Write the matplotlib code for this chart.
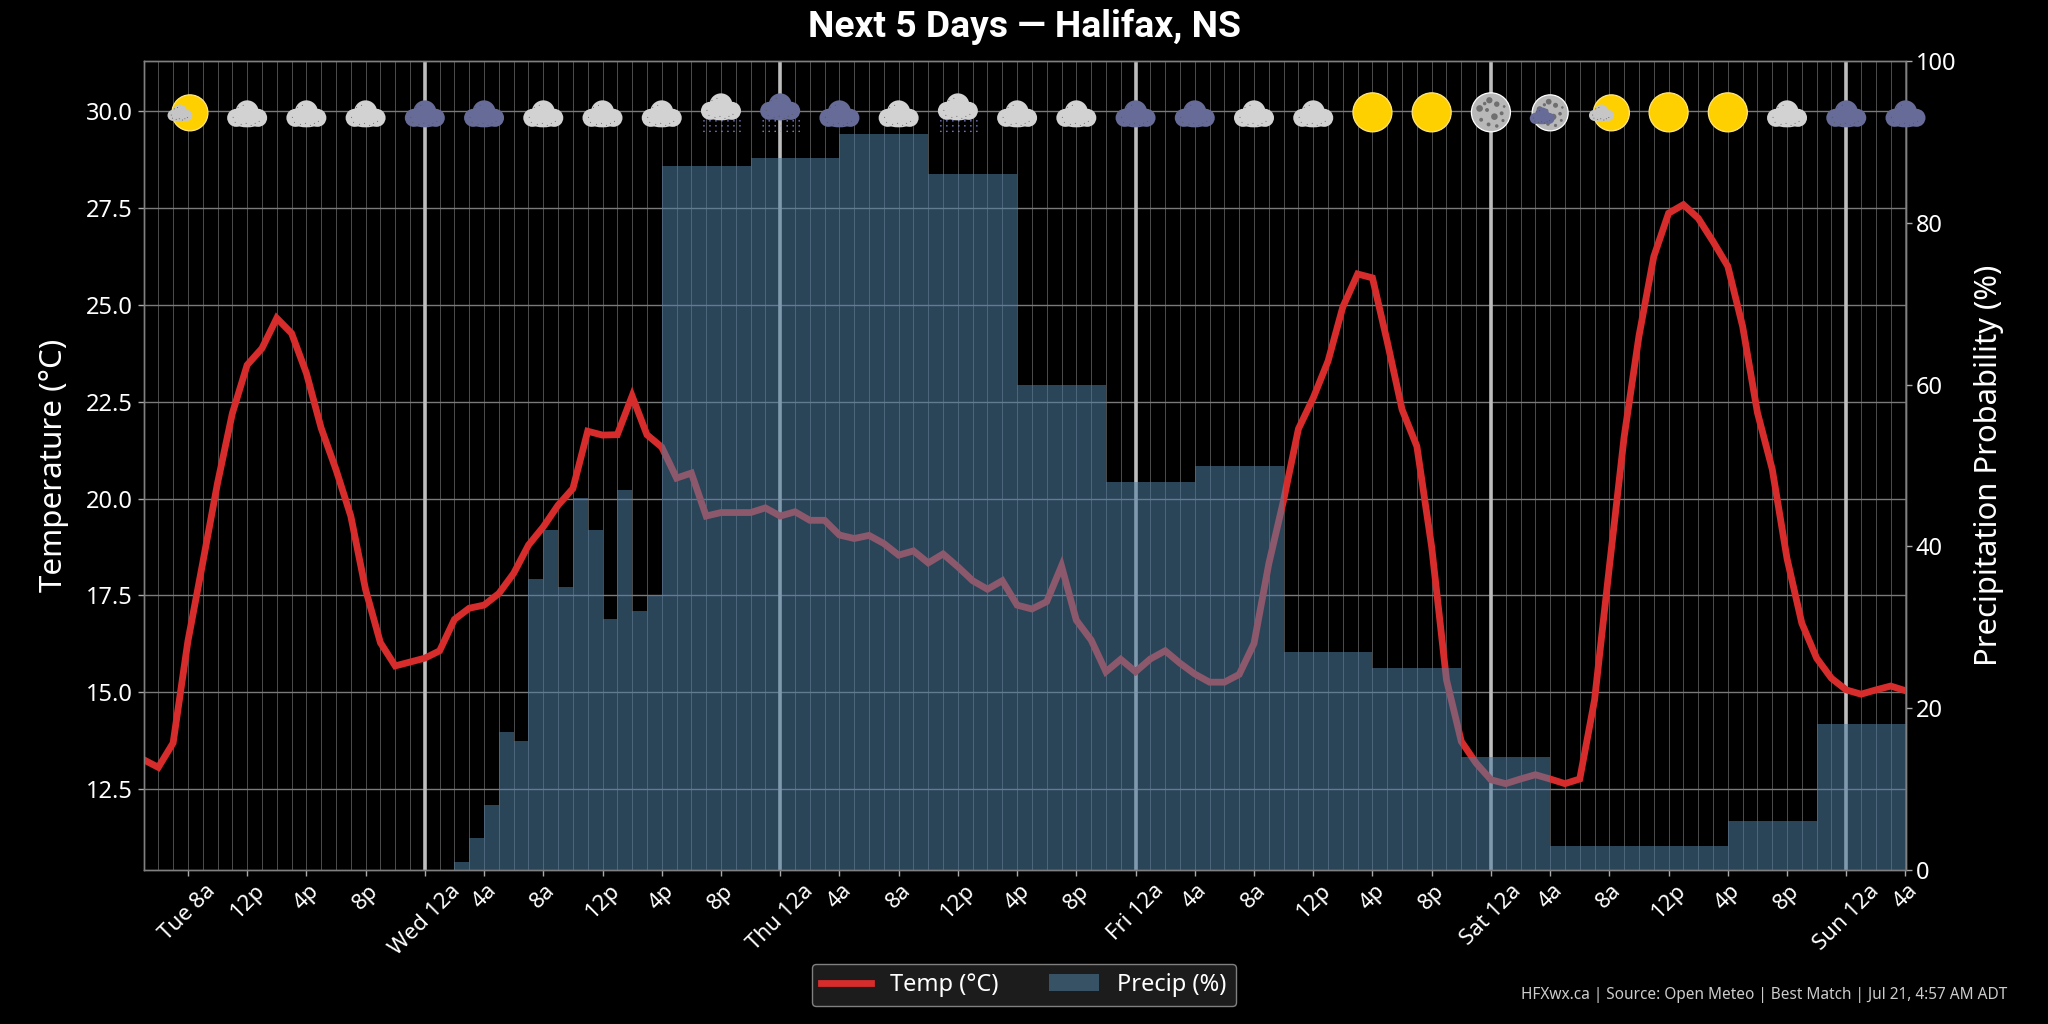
import matplotlib
matplotlib.use('Agg')
import matplotlib.pyplot as plt
from matplotlib.patches import Circle, Ellipse
from matplotlib.offsetbox import AnnotationBbox, DrawingArea

plt.rcParams['font.family'] = ['Noto Sans', 'DejaVu Sans']

# hourly temperature from Tue 5a to Sun 4a
temps = [13.26, 13.06, 13.69, 16.32, 18.34, 20.4, 22.2, 23.45, 23.88, 24.66,
         24.27, 23.24, 21.82, 20.75, 19.55, 17.65, 16.28, 15.68, 15.78, 15.88,
         16.07, 16.88, 17.17, 17.25, 17.55, 18.07, 18.8, 19.27, 19.83, 20.26,
         21.74, 21.64, 21.65, 22.65, 21.65, 21.33, 20.53, 20.66, 19.55, 19.64,
         19.64, 19.64, 19.76, 19.55, 19.66, 19.44, 19.44, 19.06, 18.97, 19.05,
         18.84, 18.54, 18.65, 18.34, 18.57, 18.24, 17.88, 17.66, 17.88, 17.25,
         17.15, 17.34, 18.26, 16.86, 16.35, 15.53, 15.85, 15.53, 15.86, 16.07,
         15.75, 15.47, 15.26, 15.26, 15.46, 16.26, 18.32, 19.96, 21.8, 22.6,
         23.55, 24.95, 25.8, 25.7, 24.05, 22.3, 21.35, 18.75, 15.32, 13.73,
         13.17, 12.74, 12.64, 12.76, 12.87, 12.76, 12.64, 12.76, 14.8, 18.24,
         21.6, 24.2, 26.25, 27.37, 27.59, 27.24, 26.64, 26.0, 24.45, 22.22,
         20.76, 18.45, 16.78, 15.88, 15.36, 15.06, 14.95, 15.06, 15.16, 15.04]

# hourly precip probability, each value fills the hour after it
precip = [0, 0, 0, 0, 0, 0, 0, 0, 0, 0, 0, 0, 0, 0, 0, 0, 0, 0, 0, 0, 0,
          1, 4, 8, 17, 16, 36, 42, 35, 46, 42, 31, 47, 32, 34,
          87, 87, 87, 87, 87, 87, 88, 88, 88, 88, 88, 88,
          91, 91, 91, 91, 91, 91, 86, 86, 86, 86, 86, 86,
          60, 60, 60, 60, 60, 60, 48, 48, 48, 48, 48, 48,
          50, 50, 50, 50, 50, 50, 27, 27, 27, 27, 27, 27,
          25, 25, 25, 25, 25, 25, 14, 14, 14, 14, 14, 14,
          3, 3, 3, 3, 3, 3, 3, 3, 3, 3, 3, 3,
          6, 6, 6, 6, 6, 6, 18, 18, 18, 18, 18, 18]

tick_hours = [3, 7, 11, 15, 19, 23, 27, 31, 35, 39, 43, 47, 51, 55, 59, 63, 67, 71, 75, 79,
              83, 87, 91, 95, 99, 103, 107, 111, 115, 119]
tick_labels = ['Tue 8a', '12p', '4p', '8p', 'Wed 12a', '4a', '8a', '12p', '4p', '8p',
               'Thu 12a', '4a', '8a', '12p', '4p', '8p', 'Fri 12a', '4a', '8a', '12p',
               '4p', '8p', 'Sat 12a', '4a', '8a', '12p', '4p', '8p', 'Sun 12a', '4a']
day_hours = [19, 43, 67, 91, 115]

# one weather icon per tick
icons = ['partly', 'cloud', 'cloud', 'cloud', 'dark', 'dark', 'cloud', 'cloud', 'cloud', 'drizzle',
         'darkrain', 'dark', 'cloud', 'drizzle', 'cloud', 'cloud', 'dark', 'dark', 'cloud', 'cloud',
         'sun', 'sun', 'moon', 'moondark', 'partly', 'sun', 'sun', 'cloud', 'dark', 'dark']

hours = list(range(len(temps)))
bg = '#000000'
k = 0.72  # DrawingArea works in points, icon sizes below are in pixels


def add_cloud(da, color, dx=0, dy=0, s=1.0):
    for cx, cy, r in [(0, -0.5, 11.5), (-11, -6.5, 9), (11, -6.5, 9)]:
        da.add_artist(Circle(((dx + cx * s) * k, (dy + cy * s) * k), r * s * k, fc=color, ec='none'))
    da.add_artist(Ellipse((dx * k, (dy - 7 * s) * k), 36 * s * k, 18 * s * k, fc=color, ec='none'))
    for cx, cy in [(-14, -6), (-12, -11), (-6, -13), (-1, -12), (4, -14), (8, -12), (12, -10), (-9, 4), (-4, 6)]:
        da.add_artist(Circle(((dx + cx * s) * k, (dy + cy * s) * k), 0.35, fc='#555555', ec='none'))


def add_disc(da, color, edge, d, dx=0, dy=0):
    da.add_artist(Circle((dx * k, dy * k), d / 2 * k, fc=color, ec=edge, lw=0.9))


def add_craters(da, d, dx=0, dy=0):
    for cx, cy, r in [(-.08, .62, .16), (.3, .42, .14), (-.58, .2, .17), (-.2, .12, .1), (.55, -.05, .1),
                      (.18, -.22, .17), (-.5, -.38, .1), (.62, -.42, .08), (-.12, -.62, .1), (.3, -.7, .09),
                      (-.32, .45, .09), (.68, .3, .07)]:
        da.add_artist(Circle(((dx + cx * d / 2) * k, (dy + cy * d / 2) * k), r * d / 2 * k, fc='#6f6f6f', ec='none'))


def add_rain(da):
    for row in [-9.5, -14.5, -20]:
        for cx in [-18, -12, -6, 0, 6, 12, 18]:
            da.add_artist(Circle(((cx + 1) * k, row * k), 0.55, fc='#8a8ee0', ec='none'))


def make_icon(kind):
    da = DrawingArea(60, 60, 30, 30, clip=False)
    grey = '#d2d2d2'
    slate = '#666b97'
    if kind == 'sun':
        add_disc(da, '#ffd000', '#ffe680', 39, 0, -1)
    elif kind == 'partly':
        add_disc(da, '#ffd000', '#ffe680', 36, 2, -1.5)
        add_cloud(da, '#c6c6c6', -8, 0, 0.62)
    elif kind == 'moon':
        add_disc(da, '#b8b8b8', '#ffffff', 39, 0, -1)
        add_craters(da, 39, 0, -1)
    elif kind == 'moondark':
        add_disc(da, '#b8b8b8', '#ffffff', 36, 0, -1.5)
        add_craters(da, 36, 0, -1.5)
        add_cloud(da, slate, -8, -3, 0.62)
    elif kind == 'cloud':
        add_cloud(da, grey, 0, 0)
    elif kind == 'dark':
        add_cloud(da, slate, 0, 0)
    elif kind == 'drizzle':
        add_rain(da)
        add_cloud(da, grey, 0, 7)
    elif kind == 'darkrain':
        add_rain(da)
        add_cloud(da, slate, 0, 7)
    return da


fig = plt.figure(figsize=(20.48, 10.24), dpi=100, facecolor=bg)
ax = fig.add_axes([143.5 / 2048, 1 - 870 / 1024, 1762 / 2048, 809 / 1024], facecolor=bg)

ax.plot(hours, temps, color='#d62c2c', lw=4.9, label='Temp (°C)', zorder=3, solid_joinstyle='miter')
ax.set_xlim(0, 119)
ax.set_ylim(10.41, 31.3)
ax.set_yticks([12.5, 15, 17.5, 20, 22.5, 25, 27.5, 30])
ax.set_yticklabels(['12.5', '15.0', '17.5', '20.0', '22.5', '25.0', '27.5', '30.0'])
ax.set_xticks(tick_hours)
ax.set_xticklabels(tick_labels, rotation=45, ha='center')
ax.set_xticks(hours, minor=True)
ax.grid(True, axis='y', color='#7a7a7a', lw=1.0, zorder=1)
ax.grid(True, axis='x', which='major', color='#4d4d4d', lw=0.7, zorder=1)
ax.grid(True, axis='x', which='minor', color='#4d4d4d', lw=0.7, zorder=1)
for h in day_hours:
    ax.axvline(h, color='#bdbdbd', lw=2.6, zorder=2)
ax.tick_params(axis='x', which='minor', length=0)
ax.tick_params(axis='y', which='major', colors='white', labelsize=17, length=4, width=1, color='#aaaaaa')
ax.tick_params(axis='x', which='major', colors='white', labelsize=16, length=4, width=1, color='#aaaaaa')
ax.set_axisbelow(True)

ax2 = ax.twinx()
bars = ax2.bar(hours[:len(precip)], precip, width=1.0, align='edge', color='#4e7da2', alpha=0.55, lw=0,
               label='Precip (%)', zorder=2)
ax2.set_ylim(0, 100)
ax2.set_yticks([0, 20, 40, 60, 80, 100])
ax2.tick_params(axis='y', colors='white', labelsize=17, length=4, width=1, color='#aaaaaa')
for a in (ax, ax2):
    for sp in a.spines.values():
        sp.set_color('#808080')
        sp.set_linewidth(1.0)

for h, kind in zip(tick_hours, icons):
    ab = AnnotationBbox(make_icon(kind), (h, 30), xycoords=ax.transData, frameon=False, pad=0,
                        box_alignment=(0.5, 0.5), annotation_clip=False, zorder=10)
    ax2.add_artist(ab)

ax.set_ylabel('Temperature (°C)', color='white', fontsize=22.5)
ax.yaxis.set_label_coords(-0.042, 0.5)
ax2.set_ylabel('Precipitation Probability (%)', color='white', fontsize=22.3)
ax2.yaxis.set_label_coords(1.039, 0.5)

fig.text(0.5, 1 - 26.5 / 1024, 'Next 5 Days — Halifax, NS', color='white', fontsize=26.8, fontweight='bold',
         family=['Roboto', 'DejaVu Sans'], ha='center', va='center')

h1, l1 = ax.get_legend_handles_labels()
h2, l2 = ax2.get_legend_handles_labels()
leg = fig.legend(h1 + h2, l1 + l2, loc='center', bbox_to_anchor=(1024 / 2048, 1 - 985 / 1024), ncol=2,
                 fontsize=17, facecolor='#1c1c1c', edgecolor='#808080', labelcolor='white', framealpha=1.0,
                 columnspacing=2.15, handlelength=2.1)

fig.text(2007 / 2048, 1 - 995 / 1024, 'HFXwx.ca | Source: Open Meteo | Best Match | Jul 21, 4:57 AM ADT',
         color='#cccccc', fontsize=11.1, ha='right', va='center')

fig.savefig('out.png', dpi=100, facecolor=bg)
